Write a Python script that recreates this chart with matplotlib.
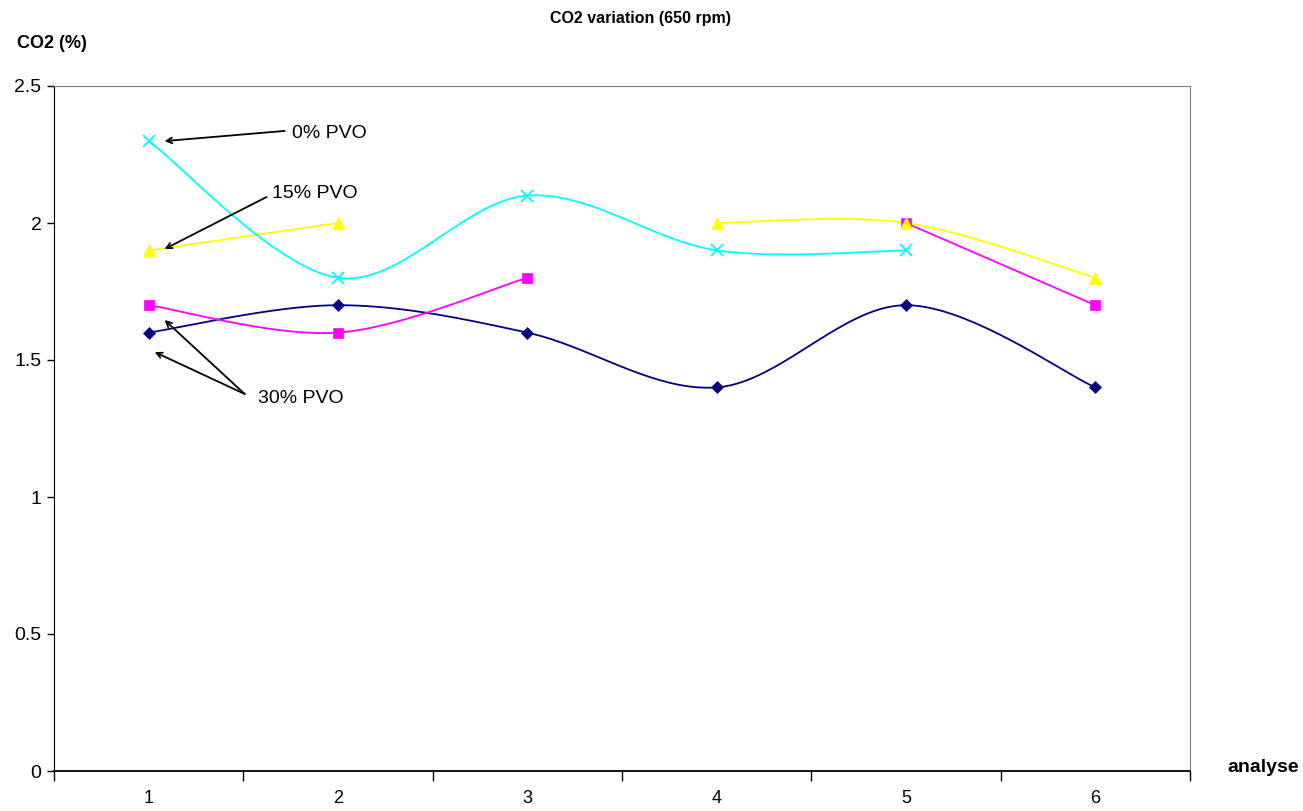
import numpy as np
import matplotlib
matplotlib.use("Agg")
import matplotlib.pyplot as plt

plt.rcParams['font.family'] = ['Liberation Sans', 'DejaVu Sans']

# Data
analyses = [1, 2, 3, 4, 5, 6]
pvo_0 = [2.3, 1.8, 2.1, 1.9, 1.9, np.nan]
pvo_15 = [1.9, 2.0, np.nan, 2.0, 2.0, 1.8]
pvo_30a = [1.7, 1.6, 1.8, np.nan, 2.0, 1.7]
pvo_30b = [1.6, 1.7, 1.6, 1.4, 1.7, 1.4]
y_ticks = [0, 0.5, 1, 1.5, 2, 2.5]
y_tick_labels = ['0', '0.5', '1', '1.5', '2', '2.5']


def smooth_runs(xs, ys, n=40):
    """Split a series at gaps and return Bezier-smoothed runs."""
    xs = np.asarray(xs, float)
    ys = np.asarray(ys, float)
    runs, cur = [], []
    for x, y in zip(xs, ys):
        if np.isnan(y):
            if cur:
                runs.append(cur)
            cur = []
        else:
            cur.append((x, y))
    if cur:
        runs.append(cur)
    out = []
    for run in runs:
        p = np.array(run)
        if len(p) < 3:
            out.append((p[:, 0], p[:, 1]))
            continue
        px, py = [], []
        m = len(p)
        for i in range(m - 1):
            p0 = p[max(i - 1, 0)]
            p1 = p[i]
            p2 = p[i + 1]
            p3 = p[min(i + 2, m - 1)]
            c1 = p1 + (p2 - p0) / 6.0
            c2 = p2 - (p3 - p1) / 6.0
            t = np.linspace(0, 1, n)[:, None]
            b = ((1 - t) ** 3) * p1 + 3 * ((1 - t) ** 2) * t * c1 \
                + 3 * (1 - t) * t ** 2 * c2 + t ** 3 * p2
            if i > 0:
                b = b[1:]
            px.extend(b[:, 0])
            py.extend(b[:, 1])
        out.append((np.array(px), np.array(py)))
    return out


fig = plt.figure(figsize=(13.03, 8.11), dpi=100)
ax = fig.add_axes([54 / 1303, 40 / 811, (1190 - 54) / 1303, (771 - 86) / 811])

series = [
    (pvo_30b, '#000080', 'D', 6.5),
    (pvo_30a, '#FF00FF', 's', 7),
    (pvo_15, '#FFFF00', '^', 8),
    (pvo_0, '#00FFFF', 'x', 8),
]
for vals, color, marker, ms in series:
    for sx, sy in smooth_runs(analyses, vals):
        ax.plot(sx, sy, color=color, lw=1.3, zorder=2)
    ax.plot(analyses, vals, linestyle='none', marker=marker, color=color,
            markersize=ms, markeredgewidth=1.3 if marker == 'x' else 0.5,
            zorder=3)

ax.set_xlim(0.5, 6.5)
ax.set_ylim(0, 2.5)
ax.set_yticks(y_ticks)
ax.set_yticklabels(y_tick_labels, fontsize=14)

# Category axis: tick marks between categories, labels centred on them
ax.set_xticks(np.arange(0.5, 7.0, 1.0))
ax.set_xticklabels([])
ax.set_xticks(analyses, minor=True)
ax.set_xticklabels([str(a) for a in analyses], minor=True, fontsize=13)
ax.tick_params(axis='x', which='major', direction='out', length=7, width=1, color='black')
ax.tick_params(axis='x', which='minor', length=0, pad=14)
ax.tick_params(axis='y', direction='out', length=5, width=1, color='black', pad=4)

ax.spines['left'].set_color('black')
ax.spines['bottom'].set_color('black')
ax.spines['bottom'].set_linewidth(1.3)
ax.spines['top'].set_color('#808080')
ax.spines['right'].set_color('#808080')

# Series annotations
arrow = dict(arrowstyle='->', color='black', lw=1.3, shrinkA=0, shrinkB=0)
ax.annotate('', xy=(1.084, 2.299), xytext=(1.718, 2.336), arrowprops=arrow)
ax.text(1.755, 2.325, '0% PVO', fontsize=14, va='center', ha='left')
ax.annotate('', xy=(1.084, 1.905), xytext=(1.623, 2.095), arrowprops=arrow)
ax.text(1.649, 2.106, '15% PVO', fontsize=14, va='center', ha='left')
ax.annotate('', xy=(1.084, 1.646), xytext=(1.507, 1.376), arrowprops=arrow)
ax.annotate('', xy=(1.032, 1.529), xytext=(1.507, 1.376), arrowprops=arrow)
ax.text(1.575, 1.360, '30% PVO', fontsize=14, va='center', ha='left')

fig.text(640 / 1303, 1 - 18 / 811, 'CO2 variation (650 rpm)', fontsize=11.5,
         fontweight='bold', ha='center', va='center')
fig.text(17 / 1303, 1 - 44 / 811, 'CO2 (%)', fontsize=13, fontweight='bold',
         ha='left', va='center')
fig.text(1227 / 1303, 1 - 767 / 811, 'analyse', fontsize=14, fontweight='bold',
         ha='left', va='center')

fig.savefig('out.png', dpi=100)
